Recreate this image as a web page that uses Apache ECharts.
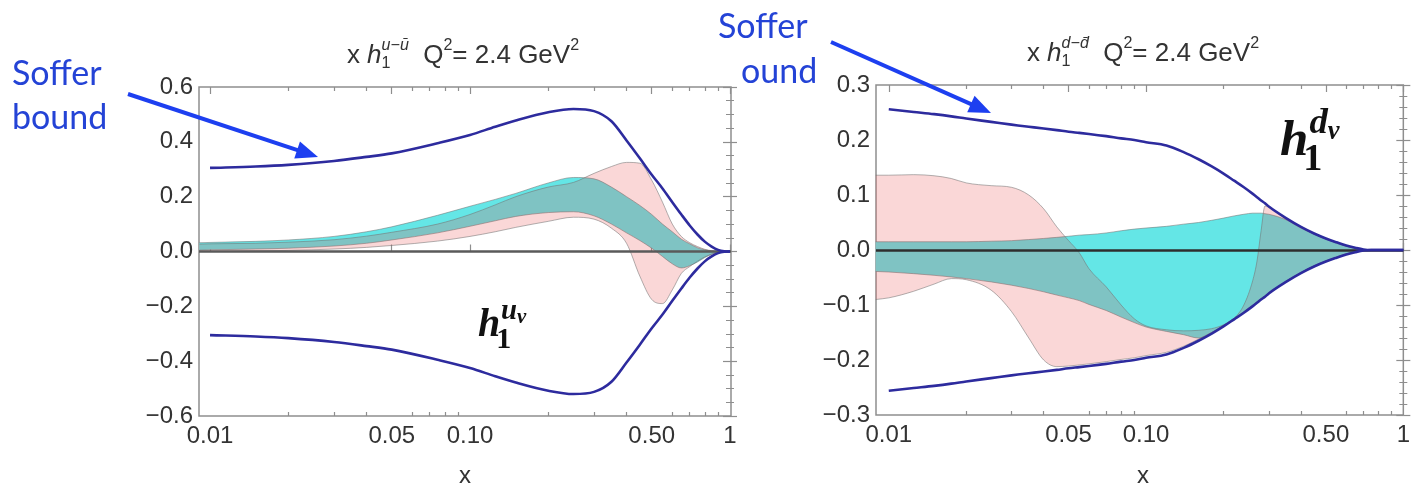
<!DOCTYPE html>
<html><head><meta charset="utf-8">
<script src="https://cdn.jsdelivr.net/npm/echarts@6/dist/echarts.min.js"></script>
<style>html,body{margin:0;padding:0;background:#fff}#c{width:1413px;height:483px}</style>
</head><body><div id="c"></div>
<script>
// ===== Left panel: x h1^{u-ubar} =====
// Soffer bound curves
const xU = [0.01, 0.015, 0.02, 0.03, 0.04, 0.05, 0.075, 0.1, 0.125, 0.15, 0.2, 0.25, 0.3, 0.35, 0.4, 0.45, 0.5, 0.55, 0.6, 0.65, 0.7, 0.75, 0.8, 0.85, 0.9, 0.95, 1.0];
const sofferUpU = [0.305, 0.31, 0.316, 0.33, 0.345, 0.358, 0.395, 0.425, 0.455, 0.478, 0.508, 0.52, 0.512, 0.475, 0.405, 0.34, 0.28, 0.23, 0.18, 0.135, 0.095, 0.062, 0.036, 0.018, 0.006, 0.001, 0];
const sofferLoU = [-0.305, -0.31, -0.316, -0.33, -0.345, -0.358, -0.395, -0.425, -0.455, -0.478, -0.508, -0.52, -0.512, -0.475, -0.405, -0.34, -0.28, -0.23, -0.18, -0.135, -0.095, -0.062, -0.036, -0.018, -0.006, -0.001, 0];
// uncertainty bands (start at the frame edge)
const xBandU = [0.0091, 0.01, 0.015, 0.02, 0.03, 0.04, 0.05, 0.075, 0.1, 0.125, 0.15, 0.2, 0.25, 0.3, 0.35, 0.4, 0.45, 0.5, 0.55, 0.6, 0.65, 0.7, 0.75, 0.8, 0.85, 0.9, 0.95, 1.0];
const cyanHiU = [0.032, 0.033, 0.037, 0.042, 0.055, 0.072, 0.09, 0.132, 0.165, 0.19, 0.212, 0.25, 0.27, 0.265, 0.235, 0.2, 0.168, 0.135, 0.1, 0.072, 0.045, 0.028, 0.014, 0.006, 0.002, 0, 0, 0];
const cyanLoU = [0.005, 0.006, 0.009, 0.012, 0.02, 0.03, 0.042, 0.068, 0.092, 0.112, 0.128, 0.142, 0.145, 0.13, 0.1, 0.068, 0.04, 0.012, -0.018, -0.045, -0.06, -0.052, -0.038, -0.022, -0.01, -0.003, 0, 0];
const pinkHiU = [0.027, 0.028, 0.03, 0.034, 0.043, 0.056, 0.07, 0.1, 0.135, 0.17, 0.2, 0.235, 0.252, 0.285, 0.31, 0.325, 0.322, 0.26, 0.18, 0.1, 0.055, 0.032, 0.018, 0.008, 0.003, 0.001, 0, 0];
const pinkLoU = [0.0, 0.0, 0.002, 0.004, 0.009, 0.015, 0.022, 0.038, 0.055, 0.072, 0.088, 0.11, 0.125, 0.118, 0.085, 0.03, -0.09, -0.175, -0.19, -0.14, -0.08, -0.055, -0.035, -0.02, -0.01, -0.003, 0, 0];

// ===== Right panel: x h1^{d-dbar} =====
const xD = [0.01, 0.0125, 0.015, 0.0175, 0.02, 0.025, 0.03, 0.035, 0.04, 0.045, 0.05, 0.055, 0.06, 0.07, 0.08, 0.09, 0.1, 0.12, 0.14, 0.16, 0.18, 0.2, 0.22, 0.24, 0.26, 0.27, 0.28, 0.29, 0.3, 0.35, 0.4, 0.45, 0.5, 0.55, 0.6, 0.65, 0.7, 0.75, 0.8, 0.9, 1.0];
const sofferUpD = [0.256, 0.251, 0.247, 0.243, 0.239, 0.233, 0.228, 0.224, 0.221, 0.218, 0.215, 0.213, 0.211, 0.207, 0.203, 0.2, 0.196, 0.19, 0.178, 0.165, 0.152, 0.139, 0.126, 0.114, 0.102, 0.096, 0.09, 0.085, 0.079, 0.058, 0.042, 0.03, 0.021, 0.014, 0.008, 0.004, 0.001, 0, 0, 0, 0];
const sofferLoD = [-0.256, -0.251, -0.247, -0.243, -0.239, -0.233, -0.228, -0.224, -0.221, -0.218, -0.215, -0.213, -0.211, -0.207, -0.203, -0.2, -0.196, -0.19, -0.178, -0.165, -0.152, -0.139, -0.126, -0.114, -0.102, -0.096, -0.09, -0.085, -0.079, -0.058, -0.042, -0.03, -0.021, -0.014, -0.008, -0.004, -0.001, 0, 0, 0, 0];
const xBandD = [0.0089, 0.01, 0.0125, 0.015, 0.0175, 0.02, 0.025, 0.03, 0.035, 0.04, 0.045, 0.05, 0.055, 0.06, 0.07, 0.08, 0.09, 0.1, 0.12, 0.14, 0.16, 0.18, 0.2, 0.22, 0.24, 0.26, 0.27, 0.28, 0.29, 0.3, 0.35, 0.4, 0.45, 0.5, 0.55, 0.6, 0.65, 0.7, 0.75, 0.8, 0.9, 1.0];
const cyanHiD = [0.015, 0.015, 0.015, 0.015, 0.015, 0.015, 0.016, 0.017, 0.019, 0.021, 0.023, 0.025, 0.027, 0.028, 0.031, 0.035, 0.038, 0.04, 0.043, 0.047, 0.05, 0.054, 0.058, 0.062, 0.065, 0.067, 0.067, 0.067, 0.066, 0.065, 0.055, 0.04, 0.029, 0.02, 0.013, 0.007, 0.003, 0.001, 0, 0, 0, 0];
const cyanLoD = [-0.039, -0.04, -0.043, -0.046, -0.049, -0.052, -0.058, -0.064, -0.07, -0.076, -0.082, -0.087, -0.092, -0.099, -0.11, -0.122, -0.132, -0.14, -0.148, -0.154, -0.16, -0.15, -0.138, -0.125, -0.113, -0.101, -0.095, -0.089, -0.084, -0.078, -0.057, -0.041, -0.029, -0.02, -0.013, -0.007, -0.003, -0.001, 0, 0, 0, 0];
const pinkHiD = [0.136, 0.136, 0.137, 0.135, 0.13, 0.122, 0.117, 0.114, 0.1, 0.075, 0.042, 0.017, -0.005, -0.034, -0.067, -0.1, -0.125, -0.138, -0.145, -0.147, -0.146, -0.143, -0.136, -0.124, -0.1, -0.055, -0.02, 0.035, 0.08, 0.078, 0.057, 0.041, 0.029, 0.02, 0.013, 0.007, 0.003, 0.001, 0, 0, 0, 0];
const pinkLoD = [-0.09, -0.087, -0.075, -0.062, -0.052, -0.054, -0.073, -0.112, -0.16, -0.2, -0.212, -0.211, -0.209, -0.207, -0.203, -0.199, -0.196, -0.192, -0.186, -0.175, -0.162, -0.15, -0.137, -0.124, -0.112, -0.1, -0.094, -0.088, -0.083, -0.078, -0.057, -0.041, -0.029, -0.02, -0.013, -0.007, -0.003, -0.001, 0, 0, 0, 0];

// ===== Ticks =====
const xMajorTicks = [0.01, 0.05, 0.1, 0.5, 1];
const xMajorLabels = ['0.01', '0.05', '0.10', '0.50', '1'];
const xMinorTicks = [0.02, 0.03, 0.04, 0.06, 0.07, 0.08, 0.09, 0.2, 0.3, 0.4, 0.6, 0.7, 0.8, 0.9];

const FRAME = '#8e8e8e';
const TXT = '#333';
const EDGE = 'rgba(115,115,115,0.55)';
const CYAN = 'rgb(100,230,230)';
const PINK = 'rgb(232,67,67)';
const PINK_OP = 0.213;
const BOUND = '#2d2b9e';
const SANS = 'Liberation Sans, Arial, sans-serif';

const meas = document.createElement('canvas').getContext('2d');
function tw(t, f) { meas.font = f; return meas.measureText(t).width; }

function mathText(parts, cx, cy, base, fam, color, align) {
  const placed = []; let x = 0;
  const fnt = (q, size) => (q.it ? 'italic ' : '') + (q.b ? 'bold ' : '') + size.toFixed(1) + 'px ' + (q.fam || fam);
  for (const p of parts) {
    if (p.stack) {
      let w = 0;
      for (const k of ['sub', 'sup']) {
        const q = p.stack[k]; if (!q) continue;
        const size = (q.size || 0.62) * base, font = fnt(q, size);
        const qx = x + (q.dx || 0) * base;
        placed.push({ t: q.t, font, x: qx, dy: (q.dy || 0) * base });
        let ww = tw(q.t, font) + (q.dx || 0) * base;
        if (q.next) {
          const s2 = (q.next.size || 0.5) * base, f2 = fnt(q.next, s2);
          placed.push({ t: q.next.t, font: f2, x: qx + tw(q.t, font) + (q.next.dx || 0) * base, dy: (q.next.dy || 0) * base });
          ww += tw(q.next.t, f2) + (q.next.dx || 0) * base;
        }
        w = Math.max(w, ww);
      }
      x += w + (p.after || 0) * base;
    } else {
      const size = (p.size || 1) * base, font = fnt(p, size);
      placed.push({ t: p.t, font, x: x + (p.dx || 0) * base, dy: (p.dy || 0) * base });
      x += tw(p.t, font) + (p.dx || 0) * base + (p.after || 0) * base;
    }
  }
  const x0 = align === 'left' ? cx : cx - x / 2;
  return placed.map(pl => ({
    type: 'text', x: x0 + pl.x, y: cy + pl.dy, z: 100,
    style: { text: pl.t, font: pl.font, fill: color, textAlign: 'left', textVerticalAlign: 'middle' }
  }));
}

function arrow(x1, y1, x2, y2, color, lw, hl, hw) {
  const dx = x2 - x1, dy = y2 - y1, L = Math.hypot(dx, dy), ux = dx / L, uy = dy / L;
  const bx = x2 - ux * hl, by = y2 - uy * hl, px = -uy, py = ux;
  return [
    { type: 'line', z: 100, shape: { x1, y1, x2: bx + ux * 2, y2: by + uy * 2 }, style: { stroke: color, lineWidth: lw } },
    { type: 'polygon', z: 100, shape: { points: [[x2, y2], [bx + px * hw, by + py * hw], [bx - px * hw, by - py * hw]] }, style: { fill: color } }
  ];
}

function titleParts(q, qbar) {
  return [
    { t: 'x ' }, { t: 'h', it: true },
    { stack: { sub: { t: '1', size: 0.62, dy: 0.3 }, sup: { t: q + '\u2212' + qbar, it: true, size: 0.62, dy: -0.42 } }, after: 0.55 },
    { t: 'Q' }, { stack: { sup: { t: '2', size: 0.62, dy: -0.42 } } },
    { t: '= 2.4 GeV' }, { stack: { sup: { t: '2', size: 0.62, dy: -0.42 } } }
  ];
}
function hParts(q) {
  return [
    { t: 'h', it: true, b: true },
    { stack: { sub: { t: '1', b: true, size: 0.75, dy: 0.36, dx: -0.1 }, sup: { t: q, it: true, b: true, size: 0.72, dy: -0.36, dx: 0.02, next: { t: 'v', it: true, b: true, size: 0.52, dy: -0.2, dx: 0.0 } } } }
  ];
}

const L10 = Math.log10;
function xAxesFor(gi, xmin, xmax) {
  const lmin = L10(xmin), lmax = L10(xmax);
  const major = xMajorTicks.map(L10), minor = xMinorTicks.map(L10);
  const common = { type: 'value', gridIndex: gi, min: lmin, max: lmax, axisLine: { show: false }, splitLine: { show: false } };
  const tick = (vals, len) => ({ show: true, inside: true, length: len, customValues: vals, lineStyle: { color: FRAME, width: 1.2 } });
  return [
    { type: 'log', gridIndex: gi, min: xmin, max: xmax, show: false },
    Object.assign({}, common, { position: 'bottom', axisTick: tick(major, 7),
      axisLabel: { show: true, customValues: major, margin: 8, color: TXT, fontSize: 24, fontFamily: SANS,
        formatter: v => { const i = major.findIndex(m => Math.abs(m - v) < 1e-6); return i >= 0 ? xMajorLabels[i] : ''; } } }),
    Object.assign({}, common, { position: 'bottom', axisTick: tick(minor, 4), axisLabel: { show: false } }),
    Object.assign({}, common, { position: 'top', axisTick: tick(major, 7), axisLabel: { show: false } }),
    Object.assign({}, common, { position: 'top', axisTick: tick(minor, 4), axisLabel: { show: false } })
  ];
}
function yAxesFor(gi, mn, mx, step, minorSplit) {
  const fmt = v => (Math.abs(v) < 1e-9 ? '0.0' : (v < 0 ? '\u2212' : '') + Math.abs(v).toFixed(1));
  const common = { type: 'value', gridIndex: gi, min: mn, max: mx, interval: step, axisLine: { show: false }, splitLine: { show: false },
    axisTick: { show: true, inside: true, length: 7, lineStyle: { color: FRAME, width: 1.2 } },
    minorTick: { show: true, splitNumber: minorSplit, length: 4, lineStyle: { color: FRAME, width: 1 } } };
  return [
    Object.assign({}, common, { position: 'left', axisLabel: { show: true, margin: 6, color: TXT, fontSize: 24, fontFamily: SANS, formatter: fmt } }),
    Object.assign({}, common, { position: 'right', axisLabel: { show: false } })
  ];
}

// monotone cubic path through pixel points (rendering helper only)
function monoSegs(p) {
  const n = p.length, d = [], m = [];
  for (let k = 0; k < n - 1; k++) { const h = p[k + 1][0] - p[k][0]; d.push(h === 0 ? 0 : (p[k + 1][1] - p[k][1]) / h); }
  m[0] = d[0]; m[n - 1] = d[n - 2];
  for (let k = 1; k < n - 1; k++) m[k] = (d[k - 1] * d[k] <= 0) ? 0 : (d[k - 1] + d[k]) / 2;
  for (let k = 0; k < n - 1; k++) {
    if (d[k] === 0) { m[k] = 0; m[k + 1] = 0; continue; }
    const a = m[k] / d[k], b = m[k + 1] / d[k], s = a * a + b * b;
    if (s > 9) { const t = 3 / Math.sqrt(s); m[k] = t * a * d[k]; m[k + 1] = t * b * d[k]; }
  }
  const segs = [];
  for (let k = 0; k < n - 1; k++) {
    const h = p[k + 1][0] - p[k][0];
    segs.push([[p[k][0] + h / 3, p[k][1] + m[k] * h / 3], [p[k + 1][0] - h / 3, p[k + 1][1] - m[k + 1] * h / 3], p[k + 1]]);
  }
  return segs;
}
const f2 = v => v.toFixed(2);
function pathThrough(pts) {
  let s = 'M' + f2(pts[0][0]) + ' ' + f2(pts[0][1]);
  for (const sg of monoSegs(pts)) s += ' C' + sg.map(q => f2(q[0]) + ' ' + f2(q[1])).join(' ');
  return s;
}
function bandRender(xs, lo, hi, fill, op) {
  return function (params, api) {
    if (params.dataIndex !== 0) return null;
    const top = xs.map((x, i) => api.coord([x, hi[i]]));
    const bot = xs.map((x, i) => api.coord([x, lo[i]]));
    let s = pathThrough(top);
    const n = bot.length;
    s += ' L' + f2(bot[n - 1][0]) + ' ' + f2(bot[n - 1][1]);
    const bs = monoSegs(bot);
    for (let k = bs.length - 1; k >= 0; k--) {
      s += ' C' + [bs[k][1], bs[k][0], bot[k]].map(q => f2(q[0]) + ' ' + f2(q[1])).join(' ');
    }
    s += ' Z';
    return { type: 'path', shape: { pathData: s }, style: { fill, opacity: op, stroke: null } };
  };
}
function edgeRender(xs, ys) {
  return function (params, api) {
    if (params.dataIndex !== 0) return null;
    const pts = xs.map((x, i) => api.coord([x, ys[i]]));
    return { type: 'path', shape: { pathData: pathThrough(pts) }, style: { fill: null, stroke: EDGE, lineWidth: 1 } };
  };
}
function band(xi, yi, xs, lo, hi, color, op, z) {
  const data = xs.map((x, i) => [x, lo[i], hi[i]]);
  const base = { type: 'custom', xAxisIndex: xi, yAxisIndex: yi, silent: true, data, encode: { x: 0, y: [1, 2] } };
  return [
    Object.assign({}, base, { z, renderItem: bandRender(xs, lo, hi, color, op) }),
    Object.assign({}, base, { z: z + 0.5, renderItem: edgeRender(xs, lo) }),
    Object.assign({}, base, { z: z + 0.5, renderItem: edgeRender(xs, hi) })
  ];
}
function bound(xi, yi, xs, ys, zeroColor) {
  const data = xs.map((x, i) => [x, ys[i]]);
  const s = { type: 'custom', xAxisIndex: xi, yAxisIndex: yi, silent: true, z: 6, data, encode: { x: 0, y: 1 },
    renderItem: function (params, api) {
      if (params.dataIndex !== 0) return null;
      const pts = xs.map((x, i) => api.coord([x, ys[i]]));
      return { type: 'path', shape: { pathData: pathThrough(pts) }, style: { fill: null, stroke: BOUND, lineWidth: 2.6 } };
    } };
  const out = [s];
  if (zeroColor) out.push({ type: 'line', xAxisIndex: xi, yAxisIndex: yi, z: 5, silent: true, symbol: 'none', data: [],
    markLine: { silent: true, symbol: ['none', 'none'], label: { show: false },
      lineStyle: { color: zeroColor, width: 2.6, type: 'solid' }, data: [{ yAxis: 0 }] } });
  return out;
}

const grids = [
  { left: 199, top: 87, width: 532, height: 329, show: true, borderColor: FRAME, borderWidth: 1.5, backgroundColor: 'transparent' },
  { left: 876, top: 85, width: 535, height: 330, show: true, borderColor: FRAME, borderWidth: 1.5, backgroundColor: 'transparent' }
];
const xAxes = xAxesFor(0, 0.00907, 1.009).concat(xAxesFor(1, 0.00892, 1.0));
const yAxes = yAxesFor(0, -0.6, 0.6, 0.2, 4).concat(yAxesFor(1, -0.3, 0.3, 0.1, 5));

const series = [].concat(
  band(0, 0, xBandU, cyanLoU, cyanHiU, CYAN, 1, 2),
  band(0, 0, xBandU, pinkLoU, pinkHiU, PINK, PINK_OP, 3),
  bound(0, 0, xU, sofferUpU, '#5a5a5a'), bound(0, 0, xU, sofferLoU),
  band(5, 2, xBandD, cyanLoD, cyanHiD, CYAN, 1, 2),
  band(5, 2, xBandD, pinkLoD, pinkHiD, PINK, PINK_OP, 3),
  bound(5, 2, xD, sofferUpD, '#2e2e2e'), bound(5, 2, xD, sofferLoD)
);

const BLUE_TXT = '#2443d6', BLUE_ARR = '#1d3ff0';
const annFont = '34px Lato, "Open Sans", sans-serif';
const graphic = [].concat(
  mathText(titleParts('u', '\u016B'), 463, 56, 26, SANS, TXT),
  mathText(titleParts('d', 'd\u0304'), 1143, 54, 26, SANS, TXT),
  mathText(hParts('u'), 478, 326, 40, '"Liberation Serif", serif', '#111', 'left'),
  mathText(hParts('d'), 1280, 142, 51, '"Liberation Serif", serif', '#111', 'left'),
  [
    { type: 'text', x: 465, y: 476, z: 100, style: { text: 'x', font: '24px ' + SANS, fill: TXT, textAlign: 'center', textVerticalAlign: 'middle' } },
    { type: 'text', x: 1143, y: 476, z: 100, style: { text: 'x', font: '24px ' + SANS, fill: TXT, textAlign: 'center', textVerticalAlign: 'middle' } },
    { type: 'text', x: 12, y: 74, z: 100, style: { text: 'Soffer', font: annFont, fill: BLUE_TXT, textAlign: 'left', textVerticalAlign: 'middle' } },
    { type: 'text', x: 12, y: 118, z: 100, style: { text: 'bound', font: annFont, fill: BLUE_TXT, textAlign: 'left', textVerticalAlign: 'middle' } },
    { type: 'text', x: 718, y: 27, z: 100, style: { text: 'Soffer', font: annFont, fill: BLUE_TXT, textAlign: 'left', textVerticalAlign: 'middle' } },
    { type: 'text', x: 741, y: 72, z: 100, style: { text: 'ound', font: annFont, fill: BLUE_TXT, textAlign: 'left', textVerticalAlign: 'middle' } }
  ],
  arrow(128, 94, 318, 157, BLUE_ARR, 4, 22, 9),
  arrow(831, 42, 991, 113, BLUE_ARR, 4, 22, 9)
);

const chart = echarts.init(document.getElementById('c'), null, { renderer: 'canvas' });
chart.setOption({
  backgroundColor: '#fff',
  animation: false,
  grid: grids,
  xAxis: xAxes,
  yAxis: yAxes,
  series,
  graphic
});
</script>
</body></html>
